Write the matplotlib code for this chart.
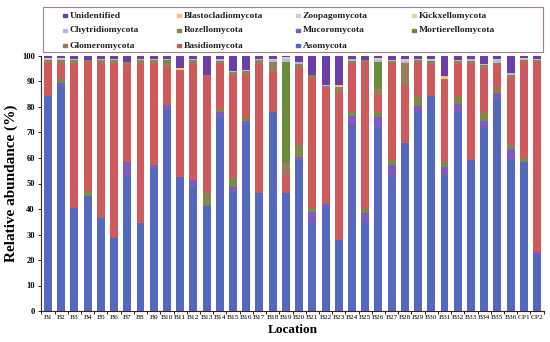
import matplotlib
matplotlib.use("Agg")
import matplotlib.pyplot as plt
from matplotlib.patches import Rectangle
import numpy as np

plt.rcParams['font.family'] = ['Liberation Serif', 'DejaVu Serif']

locations = ["B%d" % i for i in range(1, 37)] + ["CP1", "CP2"]

# relative abundance (%) per location, bottom of stack first
asomycota = [84.3, 88.2, 40.5, 45.2, 36.3, 28.5, 53.0, 34.6, 55.5, 78.8, 52.7, 48.8, 41.2,
             76.2, 46.8, 72.9, 46.1, 78.2, 46.4, 59.2, 34.4, 40.3, 27.8, 72.9, 34.4, 72.0,
             52.7, 65.8, 78.2, 84.3, 52.9, 78.2, 59.2, 71.6, 82.7, 59.2, 58.6, 22.0]
mucoromycota = [0, 1.3, 0, 0, 0, 0, 5.6, 0, 1.8, 2.0, 0, 2.6, 0,
                1.8, 2.0, 1.6, 0, 0, 0, 1.3, 4.3, 1.7, 0, 3.5, 4.1, 4.2,
                4.6, 0, 2.2, 0, 3.7, 2.8, 0, 2.9, 2.9, 4.2, 0, 1.0]
rozellomycota = [0, 1.5, 0, 2.0, 0, 0, 0, 0, 0, 0, 0, 0, 4.9,
                 1.3, 3.5, 1.5, 0, 0, 0, 4.5, 1.8, 0.5, 0, 1.6, 1.5, 2.0,
                 1.9, 0, 3.6, 0, 1.9, 3.0, 0, 3.0, 1.4, 1.6, 1.4, 0]
basidiomycota = [12.8, 6.0, 56.5, 50.3, 60.8, 68.5, 37.9, 62.4, 39.7, 15.0, 41.8, 45.6, 46.4,
                 17.7, 39.8, 16.5, 50.9, 15.8, 6.9, 30.2, 50.7, 44.8, 57.6, 19.0, 57.5, 6.5,
                 38.0, 23.0, 13.2, 12.7, 32.1, 13.0, 37.8, 17.5, 9.5, 26.2, 37.5, 74.5]
glomeromycota = [1.4, 1.5, 1.5, 1.0, 1.5, 1.5, 1.0, 1.5, 1.5, 1.5, 0, 1.5, 0,
                 1.2, 1.5, 1.5, 1.5, 3.5, 4.7, 1.8, 1.3, 0.9, 2.6, 1.2, 0.8, 2.3,
                 1.0, 8.5, 1.2, 1.0, 0.5, 1.0, 1.2, 1.5, 0.8, 1.5, 1.0, 1.0]
mortierellomycota = [0, 0, 0, 0, 0, 0, 0, 0, 0, 1.2, 0, 0, 0,
                     0, 0, 0, 0, 0, 39.8, 0, 0, 0, 0, 0, 0, 10.8,
                     0, 0, 0, 0, 0, 0, 0, 0, 0, 0, 0, 0]
chytridiomycota = [0.5, 0.5, 0.5, 0, 0.4, 0.5, 0, 0.5, 0.5, 0.5, 0, 0.5, 0,
                   0.5, 0.4, 0.5, 0.5, 0.8, 1.2, 0.5, 0, 0.3, 0, 0.5, 0.3, 0.8,
                   0.4, 0.6, 0.4, 0.5, 0, 0.5, 0.5, 0.5, 1.0, 0.5, 0.3, 0.5]
kickxellomycota = [0, 0, 0, 0, 0, 0, 0, 0, 0, 0, 0, 0, 0,
                   0, 0, 0, 0, 0.3, 0, 0, 0, 0, 0, 0, 0, 0.3,
                   0, 0.3, 0, 0, 0, 0, 0, 0, 0, 0, 0, 0]
zoopagomycota = [0.3, 0.3, 0, 0, 0, 0, 0, 0, 0, 0, 0, 0, 0,
                 0, 0, 0, 0, 0.4, 0.5, 0.3, 0, 0, 0, 0, 0, 0.4,
                 0, 0.5, 0, 0.5, 0, 0, 0, 0, 0.5, 0, 0, 0]
blastocladiomycota = [0, 0, 0, 0, 0, 0, 0, 0, 0, 0, 0.7, 0, 0,
                      0, 0, 0, 0, 0, 0, 0, 0, 0, 0.7, 0, 0, 0,
                      0, 0, 0, 0, 0.9, 0, 0, 0, 0, 0, 0.4, 0]
unidentified = [0.7, 0.7, 1.0, 1.5, 1.0, 1.0, 2.5, 1.0, 1.0, 1.0, 4.8, 1.0, 7.5,
                1.3, 6.0, 5.5, 1.0, 1.0, 0.5, 2.2, 7.5, 11.5, 11.3, 1.3, 1.4, 0.7,
                1.4, 1.3, 1.2, 1.0, 8.0, 1.5, 1.3, 3.0, 1.2, 6.8, 0.8, 1.0]

series = [
    ("Asomycota", asomycota, "#5468be"),
    ("Mucoromycota", mucoromycota, "#7b5cc0"),
    ("Rozellomycota", rozellomycota, "#7f8a48"),
    ("Basidiomycota", basidiomycota, "#cf5a5e"),
    ("Glomeromycota", glomeromycota, "#9a7d5a"),
    ("Mortierellomycota", mortierellomycota, "#6b8c3a"),
    ("Chytridiomycota", chytridiomycota, "#b9b6e2"),
    ("Kickxellomycota", kickxellomycota, "#d5d9a7"),
    ("Zoopagomycota", zoopagomycota, "#cfcfcf"),
    ("Blastocladiomycota", blastocladiomycota, "#f4c185"),
    ("Unidentified", unidentified, "#6b3fa8"),
]

# legend rows as printed in the reference
legend_rows = [["Unidentified", "Blastocladiomycota", "Zoopagomycota", "Kickxellomycota"],
               ["Chytridiomycota", "Rozellomycota", "Mucoromycota", "Mortierellomycota"],
               ["Glomeromycota", "Basidiomycota", "Asomycota"]]

W, H = 550, 342
fig = plt.figure(figsize=(5.5, 3.42), dpi=100)
ax = fig.add_axes([41 / W, 31 / H, 503 / W, 255 / H])

x = np.arange(len(locations))
bottom = np.zeros(len(locations))
colors = {}
for name, vals, col in series:
    ax.bar(x, vals, 0.6, bottom=bottom, color=col, linewidth=0)
    bottom += np.array(vals)
    colors[name] = col

ax.set_xlim(-0.53, len(locations) - 0.47)
ax.set_ylim(0, 100)
ax.set_yticks(range(0, 101, 10))
ax.set_xticks(x)
ax.set_xticklabels(locations, fontsize=5.3)
ax.set_xticks(np.arange(-0.5, len(locations), 1), minor=True)
ax.tick_params(axis='x', which='major', length=0, pad=3)
ax.tick_params(axis='x', which='minor', length=2.5, width=0.6)
ax.tick_params(axis='y', labelsize=6, length=2.5, width=0.6, pad=2)
for lab in ax.get_yticklabels():
    lab.set_fontweight('bold')
for s in ['top', 'right']:
    ax.spines[s].set_visible(False)
for s in ['left', 'bottom']:
    ax.spines[s].set_color('#3a2030')
    ax.spines[s].set_linewidth(0.8)

ax.set_ylabel("Relative abundance (%)", fontsize=11, fontweight='bold', labelpad=3)
ax.set_xlabel("Location", fontsize=9.5, fontweight='bold', labelpad=3)

# hand-placed legend box
fig.patches.append(Rectangle((43 / W, 1 - 52 / H), 500 / W, 45 / H,
                             transform=fig.transFigure, fill=False,
                             edgecolor='#a08098', linewidth=0.8))
col_x = [63, 177, 296, 412]
row_y = [15.5, 30.5, 45.5]
for r, row in enumerate(legend_rows):
    for c, name in enumerate(row):
        fig.patches.append(Rectangle((col_x[c] / W, 1 - (row_y[r] + 1.7) / H), 3.6 / W, 3.6 / H,
                                     transform=fig.transFigure, color=colors[name]))
        fig.text((col_x[c] + 6.5) / W, 1 - row_y[r] / H, name, fontsize=6.8,
                 fontweight='bold', color='#222222', va='center', ha='left')

fig.savefig("out.png", dpi=100)
